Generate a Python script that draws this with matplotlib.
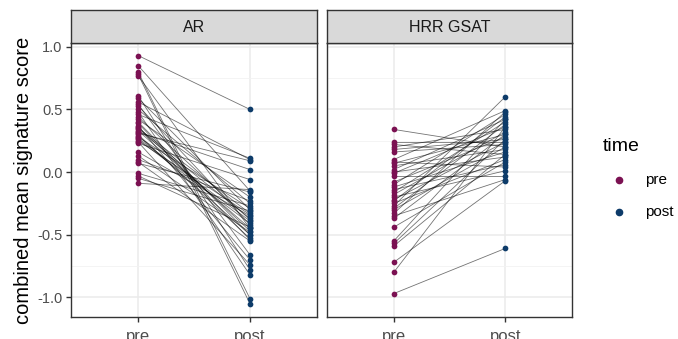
import matplotlib
matplotlib.use('Agg')
import matplotlib.pyplot as plt
from matplotlib.lines import Line2D
import numpy as np

plt.rcParams['font.family'] = ['Liberation Sans', 'DejaVu Sans']

# paired scores per subject, pre and post
ar_pre = [0.93, 0.85, 0.80, 0.78, 0.77, 0.61, 0.59, 0.56, 0.54, 0.53, 0.50,
          0.48, 0.46, 0.44, 0.42, 0.40, 0.39, 0.37, 0.36, 0.35, 0.34, 0.33,
          0.32, 0.31, 0.30, 0.29, 0.28, 0.27, 0.26, 0.25, 0.24, 0.23, 0.16,
          0.13, 0.10, 0.08, 0.07, -0.01, -0.03, -0.05, -0.09]
ar_post = [0.50, -0.15, -1.01, -1.05, -0.45, -0.78, -0.30, 0.10, -0.66, -0.42,
           -0.25, -0.82, 0.11, -0.38, -0.20, -0.50, -0.54, -0.70, -0.47, -0.33,
           -0.37, -0.45, 0.02, 0.09, -0.53, -0.50, -0.29, -0.39, -0.41, -0.34,
           -0.74, -0.06, -0.35, -0.48, -0.23, -0.55, -0.16, -0.27, -0.44,
           -0.31, -0.14]

hrr_pre = [0.34, 0.24, 0.22, 0.20, 0.18, 0.16, 0.10, 0.08, 0.07, 0.05, 0.02,
           0.00, -0.01, -0.03, -0.08, -0.10, -0.12, -0.14, -0.16, -0.18, -0.20,
           -0.22, -0.23, -0.25, -0.27, -0.29, -0.30, -0.33, -0.35, -0.37,
           -0.44, -0.55, -0.57, -0.59, -0.72, -0.80, -0.97]
hrr_post = [0.20, 0.24, 0.14, 0.34, 0.26, 0.22, 0.49, 0.04, 0.30, 0.18, 0.42,
            0.12, 0.36, -0.03, 0.28, 0.46, 0.16, 0.06, 0.40, 0.32, 0.01, 0.24,
            0.44, 0.10, 0.60, 0.38, 0.20, 0.48, -0.06, 0.30, 0.08, 0.42, 0.26,
            0.14, -0.07, 0.36, -0.61]

panels = ['AR', 'HRR GSAT']
times = ['pre', 'post']
C_PRE = '#7B1152'
C_POST = '#0D3B69'

W, H = 678, 339
fig = plt.figure(figsize=(W / 100, H / 100), dpi=100)

def fx(px):
    return px / W

def fy(py):
    return 1 - py / H

panel_x = [(71, 317), (327, 572)]
top, bottom, strip_top = 43, 317, 10

data = [(ar_pre, ar_post), (hrr_pre, hrr_post)]

for i, (name, (pre, post)) in enumerate(zip(panels, data)):
    x0, x1 = panel_x[i]
    ax = fig.add_axes([fx(x0), fy(bottom), fx(x1 - x0), (bottom - top) / H])
    ax.set_xlim(0.4, 2.6)
    ax.set_ylim(-1.157, 1.03)
    ax.set_yticks([-1.0, -0.5, 0.0, 0.5, 1.0])
    ax.set_yticks([-0.75, -0.25, 0.25, 0.75], minor=True)
    ax.set_xticks([1, 2])
    ax.set_xticklabels(times, fontsize=12, color='#4D4D4D')
    ax.grid(True, which='major', color='#EBEBEB', lw=1.1)
    ax.grid(True, which='minor', axis='y', color='#F2F2F2', lw=0.6)
    ax.set_axisbelow(True)
    for s in ax.spines.values():
        s.set_color('#333333')
        s.set_linewidth(1.0)
    ax.tick_params(axis='both', which='major', length=3.6, width=1.0,
                   color='#333333', pad=2.5)
    ax.tick_params(axis='x', which='major', pad=5)
    ax.tick_params(axis='y', which='minor', length=0)
    if i == 0:
        ax.set_yticklabels(['-1.0', '-0.5', '0.0', '0.5', '1.0'],
                           fontsize=10.5, color='#4D4D4D')
        ax.set_ylabel('combined mean signature score', fontsize=14.5,
                      color='black', labelpad=3)
    else:
        ax.tick_params(axis='y', which='major', length=0, labelleft=False)

    for a, b in zip(pre, post):
        ax.plot([1, 2], [a, b], color='black', alpha=0.55, lw=0.6, zorder=2)
    ax.scatter(np.ones(len(pre)), pre, s=17, color=C_PRE, zorder=3, lw=0)
    ax.scatter(np.full(len(post), 2), post, s=17, color=C_POST, zorder=3, lw=0)

    # facet strip
    sax = fig.add_axes([fx(x0), fy(top), fx(x1 - x0), (top - strip_top) / H])
    sax.set_facecolor('#D9D9D9')
    sax.set_xticks([])
    sax.set_yticks([])
    for s in sax.spines.values():
        s.set_color('#333333')
        s.set_linewidth(1.0)
    sax.text(0.5, 0.48, name, ha='center', va='center', fontsize=11.5,
             color='#1A1A1A', transform=sax.transAxes)

# legend
fig.text(fx(603), fy(146), 'time', fontsize=14, ha='left', va='center')
for label, col, py in [('pre', C_PRE, 180), ('post', C_POST, 212)]:
    fig.add_artist(Line2D([fx(619)], [fy(py)], marker='o', markersize=4.5,
                          color=col, lw=0, transform=fig.transFigure))
    fig.text(fx(645), fy(py), label, fontsize=11, ha='left', va='center')

fig.savefig('out.png', dpi=100)
